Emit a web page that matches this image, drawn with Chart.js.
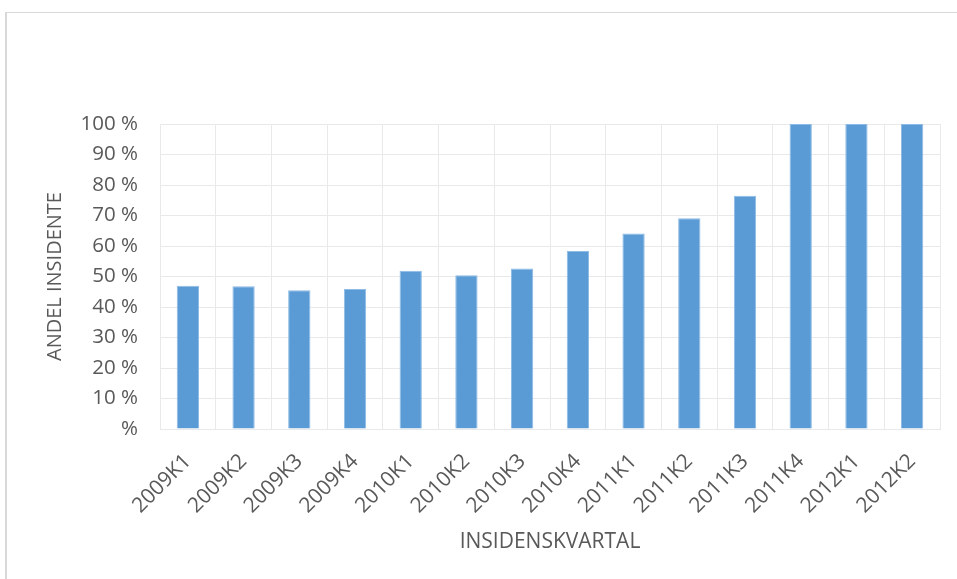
<!DOCTYPE html>
<html>
<head>
<meta charset="utf-8">
<script src="https://cdn.jsdelivr.net/npm/chart.js@4/dist/chart.umd.min.js"></script>
<style>
  html, body { margin: 0; padding: 0; background: #ffffff; }
  #wrap { position: relative; width: 957px; height: 579px; overflow: hidden; }
  #frame { position: absolute; left: 5px; top: 12px; width: 960px; height: 580px;
           border-top: 1px solid #d9d9d9; border-left: 2px solid #d9d9d9; box-sizing: border-box; }
  canvas { position: absolute; left: 0; top: 0; }
</style>
</head>
<body>
<div id="wrap">
  <div id="frame"></div>
  <canvas id="chart" width="957" height="579"></canvas>
</div>
<script>
// Quarters of incidence
const quarters = ['2009K1', '2009K2', '2009K3', '2009K4', '2010K1', '2010K2', '2010K3',
                  '2010K4', '2011K1', '2011K2', '2011K3', '2011K4', '2012K1', '2012K2'];
// Share of incidents per quarter (%)
const shareValues = [47.0, 46.8, 45.5, 45.9, 51.9, 50.4, 52.6, 58.4, 64.1, 69.1, 76.5, 100, 100, 100];
// Y axis tick labels, 0 to 100 in steps of 10
const yTickLabels = ['%', '10 %', '20 %', '30 %', '40 %', '50 %', '60 %', '70 %', '80 %', '90 %', '100 %'];

const textColor = '#595959';
const gridColor = '#e9e9e9';
const fontFamily = "'Open Sans', 'Noto Sans', sans-serif";

new Chart(document.getElementById('chart'), {
  type: 'bar',
  data: {
    labels: quarters,
    datasets: [{
      data: shareValues,
      backgroundColor: '#5b9bd5',
      borderColor: '#8dbbe6',
      borderWidth: 1,
      barPercentage: 0.4,
      categoryPercentage: 1.0
    }]
  },
  options: {
    responsive: false,
    animation: false,
    events: [],
    layout: { padding: { left: 0, right: 17, top: 124, bottom: 0 } },
    plugins: { legend: { display: false }, tooltip: { enabled: false } },
    scales: {
      x: {
        grid: { color: gridColor, lineWidth: 1, drawTicks: false, offset: true },
        border: { color: gridColor },
        ticks: {
          color: textColor,
          font: { family: fontFamily, size: 21 },
          minRotation: 45, maxRotation: 45,
          padding: 20,
          autoSkip: false
        },
        title: {
          display: true,
          text: 'INSIDENSKVARTAL',
          color: textColor,
          font: { family: fontFamily, size: 21 },
          padding: { top: 0, bottom: 24 }
        },
        afterFit: (scale) => { scale.height = 150; }
      },
      y: {
        min: 0, max: 100,
        grid: { color: gridColor, lineWidth: 1, drawTicks: false },
        border: { color: gridColor },
        ticks: {
          stepSize: 10,
          color: textColor,
          font: { family: fontFamily, size: 20.5 },
          padding: 22,
          callback: (value) => yTickLabels[Math.round(value / 10)]
        },
        title: {
          display: true,
          text: 'ANDEL INSIDENTE',
          color: textColor,
          font: { family: fontFamily, size: 20 },
          padding: { top: 43, bottom: 0 }
        },
        afterFit: (scale) => { scale.width = 160; }
      }
    }
  }
});
</script>
</body>
</html>
